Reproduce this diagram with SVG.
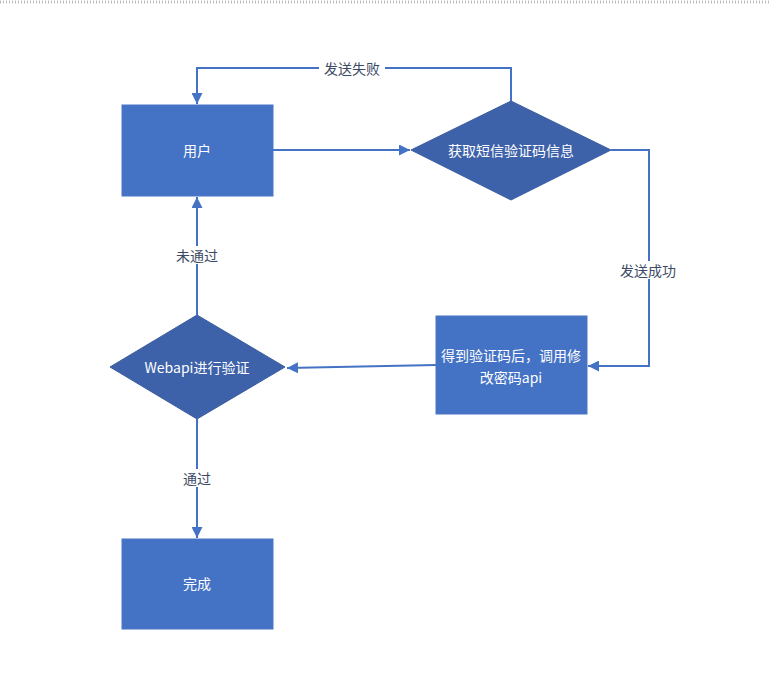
<svg xmlns="http://www.w3.org/2000/svg" width="770" height="691" viewBox="0 0 770 691">
<style>
.box{fill:#4472C4;stroke:#4A76C6;stroke-width:1}
.dia{fill:#3E62A9;stroke:#3B5DA0;stroke-width:1}
.nt{font-family:"Noto Sans CJK SC","Liberation Sans",sans-serif;font-size:14px;fill:#ffffff;text-anchor:middle;dominant-baseline:central}
.lt{font-family:"Noto Sans CJK SC","Liberation Sans",sans-serif;font-size:14px;fill:#3D4A66;text-anchor:middle;dominant-baseline:central}
.ln{fill:none;stroke:#4472C4;stroke-width:2}
.bg{fill:#ffffff}
</style>
<defs>
<marker id="ah" viewBox="0 0 10 10" refX="10" refY="5" markerWidth="5.5" markerHeight="5.5" orient="auto" markerUnits="strokeWidth">
<path d="M0,0 L10,5 L0,10 Z" fill="#4472C4"/>
</marker>
</defs>
<rect x="0" y="0" width="770" height="691" fill="#ffffff"/>
<line x1="0" y1="2" x2="770" y2="2" stroke="#BDBDBD" stroke-width="3" stroke-dasharray="1 2"/>
<g id="connectors">
<polyline class="ln" points="511,101 511,68 197,68 197,104" marker-end="url(#ah)"/>
<line class="ln" x1="273" y1="150" x2="410" y2="150" marker-end="url(#ah)"/>
<polyline class="ln" points="611,150 649,150 649,366 588,366" marker-end="url(#ah)"/>
<line class="ln" x1="436" y1="365" x2="287" y2="368" marker-end="url(#ah)"/>
<line class="ln" x1="197" y1="315" x2="197" y2="197" marker-end="url(#ah)"/>
<line class="ln" x1="197" y1="419" x2="197" y2="538" marker-end="url(#ah)"/>
<rect class="bg" x="319" y="59" width="66" height="18"/>
<text class="lt" x="352" y="68">发送失败</text>
<rect class="bg" x="615" y="261" width="68" height="18"/>
<text class="lt" x="648" y="270">发送成功</text>
<rect class="bg" x="171" y="246" width="52" height="18"/>
<text class="lt" x="197" y="255">未通过</text>
<rect class="bg" x="178" y="469" width="38" height="18"/>
<text class="lt" x="197" y="478">通过</text>
</g>
<g id="user">
<rect class="box" x="122" y="105" width="151" height="91"/>
<text class="nt" x="197" y="150">用户</text>
</g>
<g id="getcode">
<polygon class="dia" points="511,101 611,150 511,200 411,150"/>
<text class="nt" x="511" y="150">获取短信验证码信息</text>
</g>
<g id="callapi">
<rect class="box" x="436" y="316" width="151" height="98"/>
<text class="nt" x="511" y="355">得到验证码后，调用修</text>
<text class="nt" x="511" y="377">改密码api</text>
</g>
<g id="verify">
<polygon class="dia" points="197,315 285,367 197,419 110,367"/>
<text class="nt" x="197" y="367">Webapi进行验证</text>
</g>
<g id="done">
<rect class="box" x="122" y="539" width="151" height="90"/>
<text class="nt" x="197" y="583">完成</text>
</g>
</svg>
